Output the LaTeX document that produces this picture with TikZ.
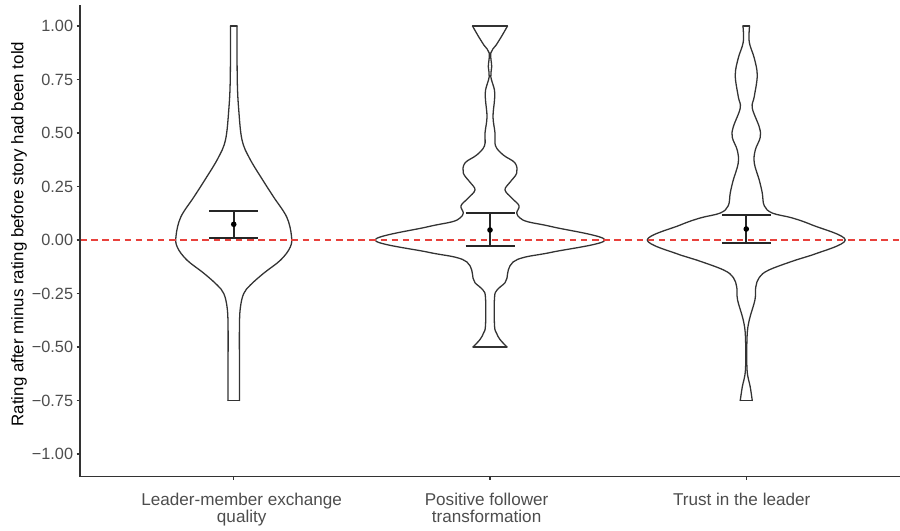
\documentclass[tikz,border=0pt]{standalone}
\usepackage{fontspec}
\setmainfont{Liberation Sans}
\definecolor{axisgray}{HTML}{333333}
\definecolor{tickgray}{HTML}{4D4D4D}
\definecolor{hlinered}{HTML}{E8413C}
\begin{document}
\begin{tikzpicture}[
    x=0.03cm, y=-0.03cm,
    violin/.style={draw=axisgray, line width=1.1pt, line join=round, line cap=round},
    errbar/.style={draw=black!85, line width=1.4pt},
    refline/.style={draw=hlinered, line width=1.1pt, dash pattern=on 5.6pt off 3.9pt},
    axisline/.style={draw=axisgray, line width=1.1pt},
    ticklabel/.style={anchor=east, inner sep=0pt, text=tickgray, font=\fontsize{13.9}{16}\selectfont},
    catlabel/.style={anchor=north, inner sep=0pt, align=center, text=tickgray, font=\fontsize{14.6}{14.8}\selectfont},
    axistitle/.style={rotate=90, anchor=base, inner sep=0pt, font=\fontsize{14.4}{16}\selectfont}
]
\useasboundingbox (0,0) rectangle (900,530);

% Leader-member exchange quality
\begin{scope}[shift={(233.75,240)}, y=6.42cm]
  \foreach \s in {1,-1}
    \draw[violin, xscale=\s] plot[smooth, tension=0.6] coordinates {
      (5.8,-0.75) (5.7,-0.6) (5.7,-0.4) (6.7,-0.313) (10,-0.25) (16.7,-0.21)
      (30,-0.155) (47,-0.093) (56.5,-0.033) (57.7,0.02) (53,0.107) (40,0.2)
      (29,0.28) (16,0.38) (8.3,0.467) (5,0.607) (3.5,0.75) (3.3,1)};
  \draw[violin] (-5.8,-0.75) -- (5.8,-0.75);
  \draw[violin] (-3.3,1) -- (3.3,1);
\end{scope}

% Positive follower transformation
\begin{scope}[shift={(490,240)}, y=6.42cm]
  \foreach \s in {1,-1}
    \draw[violin, xscale=\s] plot[smooth, tension=0.6] coordinates {
      (17,-0.5) (10,-0.465) (6.5,-0.435) (4.5,-0.4) (4.5,-0.27) (7,-0.234)
      (15,-0.2) (17,-0.178) (18.3,-0.14) (23,-0.103) (35,-0.08) (63,-0.056)
      (115,0) (63,0.061) (38,0.085) (30,0.103) (26.7,0.126) (29,0.16)
      (22,0.195) (15,0.234) (20,0.27) (26.7,0.313) (25,0.36) (13.3,0.397)
      (5.5,0.44) (5,0.5) (3,0.575) (4.5,0.654) (4.5,0.7) (0.8,0.763)
      (1.7,0.81) (0.8,0.874) (6,0.91) (12,0.955) (17.5,1)};
  \draw[violin] (-17,-0.5) -- (17,-0.5);
  \draw[violin] (-17.5,1) -- (17.5,1);
\end{scope}

% Trust in the leader
\begin{scope}[shift={(746.25,240)}, y=6.42cm]
  \foreach \s in {1,-1}
    \draw[violin, xscale=\s] plot[smooth, tension=0.6] coordinates {
      (6,-0.75) (4,-0.687) (0.8,-0.607) (0.8,-0.453) (3,-0.374) (8.7,-0.28)
      (9.5,-0.22) (13,-0.175) (22.7,-0.14) (50,-0.093) (66,-0.07) (99,0)
      (66,0.07) (46,0.103) (26,0.126) (18,0.16) (16,0.22) (13,0.28)
      (8,0.36) (9,0.42) (14,0.48) (13,0.528) (6,0.617) (8,0.67) (11,0.77)
      (8,0.85) (3,0.925) (3.3,1)};
  \draw[violin] (-6,-0.75) -- (6,-0.75);
  \draw[violin] (-3.3,1) -- (3.3,1);
\end{scope}

% zero line
\coordinate (zero-left) at (80,240);
\coordinate (zero-right) at (900,240);
\draw[refline] (zero-left) -- (zero-right);

% means with error bars
\foreach \cx/\lo/\hi/\m [count=\i] in {233.75/238.3/210.7/224.3, 490/246/213.3/230, 746.25/242.7/215/229}
{
  \draw[errbar] (\cx-24.5,\hi) -- (\cx+24.5,\hi);
  \draw[errbar] (\cx-24.5,\lo) -- (\cx+24.5,\lo);
  \draw[errbar] (\cx,\hi) -- (\cx,\lo);
  \fill (\cx,\m) circle[radius=2.4pt];
}

% axes
\draw[axisline] (80,5) -- (80,476.7) -- (900,476.7);
\foreach \v/\t [count=\i] in {1/1.00, 0.75/0.75, 0.5/0.50, 0.25/0.25, 0/0.00, -0.25/−0.25, -0.5/−0.50, -0.75/−0.75, -1/−1.00}
{
  \draw[axisline] (76.5,{240-214*\v}) -- (80,{240-214*\v});
  \node[ticklabel] (ytick-\i) at (73.3,{240-214*\v}) {\t};
}
\foreach \cx in {233.75,490,746.25}
  \draw[axisline] (\cx,476.7) -- (\cx,480);

\node[catlabel] (lmx-label) at (241.7,492.5) {Leader-member exchange\\quality};
\node[catlabel] (pft-label) at (486.6,492.5) {Positive follower\\transformation};
\node[catlabel] (trust-label) at (741.7,492.5) {Trust in the leader};
\node[axistitle] (ytitle) at (23.3,234) {Rating after minus rating before story had been told};
\end{tikzpicture}
\end{document}
